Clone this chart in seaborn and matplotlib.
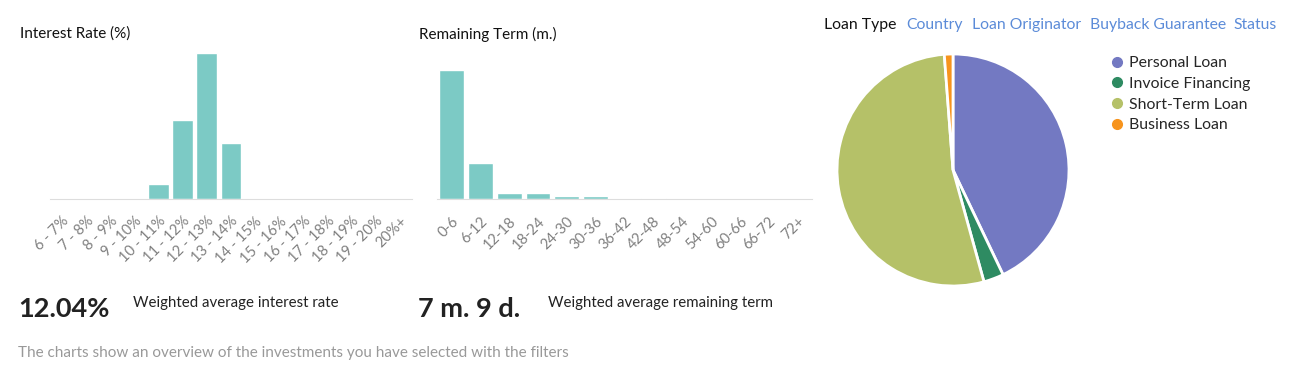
import matplotlib
matplotlib.use("Agg")
import matplotlib.pyplot as plt
from matplotlib.lines import Line2D
import seaborn as sns
import pandas as pd

# ---------------- data ----------------
rate_labels = ['6 - 7%', '7 - 8%', '8 - 9%', '9 - 10%', '10 - 11%', '11 - 12%', '12 - 13%',
               '13 - 14%', '14 - 15%', '15 - 16%', '16 - 17%', '17 - 18%', '18 - 19%',
               '19 - 20%', '20%+']
rate_share = [0, 0, 0, 0, 5.1, 26.6, 49.4, 18.9, 0, 0, 0, 0, 0, 0, 0]

term_labels = ['0-6', '6-12', '12-18', '18-24', '24-30', '30-36', '36-42', '42-48',
               '48-54', '54-60', '60-66', '66-72', '72+']
term_share = [69.6, 19.6, 3.4, 3.4, 1.6, 1.6, 0, 0.8, 0, 0, 0, 0, 0]

loan_types = ['Personal Loan', 'Invoice Financing', 'Short-Term Loan', 'Business Loan']
loan_share = [42.9, 2.8, 53.1, 1.2]
loan_colors = ['#7379c2', '#2e8b62', '#b5c168', '#f7941d']

tabs = ['Loan Type', 'Country', 'Loan Originator', 'Buyback Guarantee', 'Status']

BAR = '#7ccac5'
W, H = 1308, 391

sns.set_style('white')
plt.rcParams['font.family'] = ['Lato', 'DejaVu Sans']

fig = plt.figure(figsize=(W / 100, H / 100), dpi=100)


def px_axes(x0, y_top, w, h):
    # axes from pixel box (top-left origin)
    return fig.add_axes([x0 / W, 1 - (y_top + h) / H, w / W, h / H])


def hist_panel(ax, labels, values, ymax):
    df = pd.DataFrame({'bin': labels, 'share': values})
    sns.barplot(data=df, x='bin', y='share', color=BAR, width=0.86,
                saturation=1, ax=ax)
    ax.set_xlim(-0.5, len(labels) - 0.5)
    ax.set_ylim(0, ymax)
    ax.set_xlabel('')
    ax.set_ylabel('')
    ax.set_yticks([])
    sns.despine(ax=ax, left=True)
    ax.spines['bottom'].set_color('#dddddd')
    ax.tick_params(axis='x', length=0, pad=11, labelsize=10.5, labelcolor='#808080')
    plt.setp(ax.get_xticklabels(), rotation=45, ha='right', rotation_mode='anchor')


# ---------------- interest rate ----------------
ax1 = px_axes(50, 53, 362, 146)
hist_panel(ax1, rate_labels, rate_share, max(rate_share))
fig.text(20 / W, 1 - 34 / H, 'Interest Rate (%)', fontsize=11, color='#111111', va='center')

# ---------------- remaining term ----------------
ax2 = px_axes(437, 53, 375, 146)
hist_panel(ax2, term_labels, term_share, max(term_share) * 146 / 129)
fig.text(419 / W, 1 - 34 / H, 'Remaining Term (m.)', fontsize=11, color='#111111', va='center')

# ---------------- summary texts ----------------
fig.text(18 / W, 1 - 309 / H, '12.04%', fontsize=19.5, fontweight='bold', color='#222222', va='center')
fig.text(133 / W, 1 - 303 / H, 'Weighted average interest rate', fontsize=10.8, color='#222222', va='center')
fig.text(418 / W, 1 - 309 / H, '7 m. 9 d.', fontsize=19.5, fontweight='bold', color='#222222', va='center')
fig.text(548 / W, 1 - 303 / H, 'Weighted average remaining term', fontsize=10.8, color='#222222', va='center')
fig.text(18 / W, 1 - 353 / H, 'The charts show an overview of the investments you have selected with the filters',
         fontsize=11, color='#999999', va='center')

# ---------------- tabs ----------------
tab_x = [824, 906, 972, 1090, 1233]
for i, (t, x) in enumerate(zip(tabs, tab_x)):
    fig.text(x / W, 1 - 25 / H, t, fontsize=11.3, va='center',
             color='#111111' if i == 0 else '#5b8bd8')

# ---------------- pie ----------------
ax3 = px_axes(837, 54, 232, 232)
ax3.pie(loan_share, colors=loan_colors, startangle=90, counterclock=False,
        wedgeprops=dict(edgecolor='white', linewidth=2))
ax3.set_xlim(-1, 1)
ax3.set_ylim(-1, 1)
ax3.set_aspect('equal')

handles = [Line2D([0], [0], marker='o', linestyle='', markersize=7,
                  markerfacecolor=c, markeredgecolor=c) for c in loan_colors]
fig.legend(handles, loan_types, loc='upper left', bbox_to_anchor=(1112 / W, 1 - 56 / H),
           frameon=False, fontsize=11.4, handlelength=0.6, handletextpad=0.45,
           labelspacing=0.42, borderaxespad=0, borderpad=0)

fig.savefig('out.png', dpi=100)
